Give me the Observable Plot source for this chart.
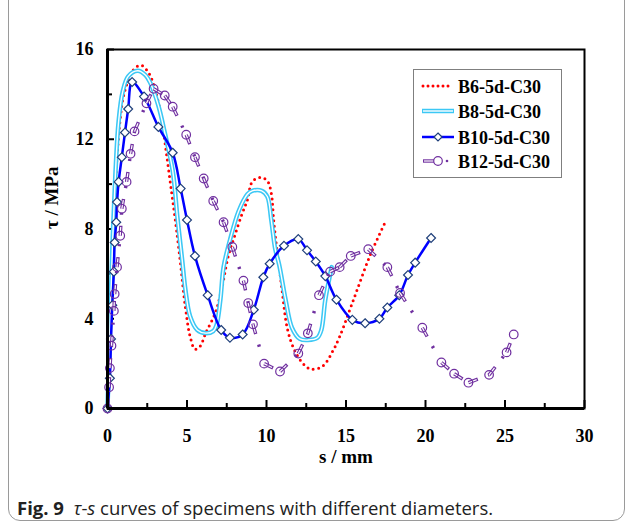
<!DOCTYPE html>
<html><head><meta charset="utf-8">
<script src="https://cdn.jsdelivr.net/npm/d3@7"></script>
<script src="https://cdn.jsdelivr.net/npm/@observablehq/plot@0.6"></script>
<style>
body{margin:0;background:#fff;}
#wrap{position:relative;width:630px;height:527px;overflow:hidden;background:#fff;}
#border{position:absolute;left:8px;top:-20px;width:617px;height:541px;border:1.5px solid #9a9a9a;border-radius:12px;box-sizing:border-box;}
#chart{position:absolute;left:0;top:0;}
#legend{position:absolute;left:413px;top:69px;width:149px;height:109px;border:1px solid #7f7f7f;box-sizing:border-box;background:#fff;}
.row{position:absolute;left:0;height:24px;width:148px;}
.row svg{position:absolute;left:6px;top:0;}
.row span{position:absolute;left:44px;top:1px;font-family:"Liberation Serif",serif;font-weight:bold;font-size:18px;line-height:22px;color:#000;}
#caption{position:absolute;left:17px;top:496px;font-family:"Open Sans","Noto Sans",sans-serif;font-size:18.5px;line-height:24px;color:#222;letter-spacing:0;white-space:nowrap;}
</style>
</head><body>
<div id="wrap">
<div id="border"></div>
<div id="chart"></div>
<div id="legend"></div>
<div id="caption"><b>Fig. 9</b>&nbsp; <i>τ</i>-<i>s</i> curves of specimens with different diameters.</div>
</div>
<script>
// ---- data ----
const seriesNames = ["B6-5d-C30", "B8-5d-C30", "B10-5d-C30", "B12-5d-C30"];
const xTicks = [0, 5, 10, 15, 20, 25, 30];
const xMinor = [2.5, 7.5, 12.5, 17.5, 22.5, 27.5];
const yTicks = [0, 4, 8, 12, 16];
const yMinor = [2, 6, 10, 14];

const b6S = [0, 0.15, 0.3, 0.45, 0.6, 0.8, 1.0, 1.4, 1.7, 2.1, 2.6, 3.0, 3.4, 3.7, 4.0, 4.3, 4.6, 4.9, 5.2, 5.5, 5.8, 6.2, 6.8, 7.2, 7.6, 8.0, 8.45, 8.8, 9.1, 9.6, 10.05, 10.3, 10.45, 10.65, 10.75, 11.0, 11.3, 11.7, 12.3, 12.8, 13.55, 14.2, 14.6, 15.5, 16.5, 17.5];
const b6T = [0, 3.0, 6.0, 9.0, 11.2, 12.9, 13.9, 14.8, 15.15, 15.3, 14.95, 14.2, 12.9, 11.4, 9.8, 8.2, 6.4, 4.5, 3.2, 2.65, 2.75, 3.4, 4.3, 5.4, 6.8, 7.7, 8.65, 9.3, 10.1, 10.3, 10.15, 9.6, 8.4, 7.1, 6.6, 5.15, 3.6, 2.7, 2.0, 1.75, 1.9, 2.6, 3.2, 4.9, 6.8, 8.35];

const b8S = [0, 0.15, 0.3, 0.5, 0.7, 0.95, 1.3, 1.9, 2.4, 2.7, 3.2, 3.6, 4.1, 4.4, 4.7, 4.9, 5.2, 5.65, 6.15, 6.65, 6.85, 7.1, 7.3, 7.7, 8.25, 8.8, 9.1, 9.7, 10.05, 10.3, 10.55, 10.8, 11.2, 11.6, 12.1, 12.6, 13.2, 13.45, 13.7, 14.1];
const b8T = [0, 3.5, 7.0, 10.5, 12.8, 14.1, 14.8, 15.05, 14.85, 14.5, 13.5, 12.3, 10.6, 8.5, 6.6, 5.3, 4.1, 3.5, 3.36, 3.45, 3.7, 4.85, 6.3, 7.5, 8.8, 9.55, 9.7, 9.7, 9.45, 8.4, 7.1, 6.4, 4.85, 3.6, 3.1, 3.05, 3.15, 3.5, 4.85, 6.3];

const b10S = [0, 0.15, 0.22, 0.3, 0.4, 0.45, 0.55, 0.6, 0.7, 0.9, 1.1, 1.3, 1.55, 2.3, 3.2, 4.1, 4.6, 5.0, 5.5, 6.3, 7.15, 7.7, 8.5, 9.2, 9.8, 10.2, 11.1, 12.0, 12.55, 13.1, 13.7, 14.4, 15.4, 16.2, 17.1, 17.6, 18.35, 18.9, 19.35, 20.35];
const b10T = [0, 1.35, 3.1, 4.6, 6.1, 7.4, 8.3, 9.2, 10.1, 11.2, 12.3, 13.35, 14.55, 13.9, 12.55, 11.4, 9.8, 8.4, 6.8, 5.05, 3.5, 3.15, 3.3, 4.4, 5.85, 6.45, 7.25, 7.55, 7.05, 6.55, 5.9, 4.85, 3.95, 3.8, 4.0, 4.5, 5.05, 5.95, 6.5, 7.6];

const b12S = [0, 0.1, 0.15, 0.25, 0.4, 0.45, 0.6, 0.8, 0.9, 1.2, 1.45, 1.7, 2.45, 2.9, 3.6, 4.1, 4.95, 5.5, 6.05, 6.65, 7.3, 7.85, 8.55, 8.85, 9.15, 9.85, 10.85, 12.0, 12.6, 13.3, 14.0, 14.6, 15.3, 16.4, 17.6, 18.4, 19.8, 21.0, 21.8, 22.7, 24.0, 25.1, 25.55];
const b12T = [0, 0.95, 1.8, 2.8, 4.35, 5.1, 6.3, 7.7, 8.9, 10.1, 11.35, 12.35, 13.6, 14.25, 13.95, 13.45, 12.2, 11.2, 10.25, 9.25, 8.3, 7.2, 5.7, 4.7, 3.75, 2.0, 1.65, 2.45, 3.35, 5.05, 6.1, 6.3, 6.8, 7.1, 6.3, 5.15, 3.6, 2.05, 1.55, 1.15, 1.5, 2.5, 3.3];

const colors = {b6: "#ff0000", b8: "#3cc8f5", b10: "#0000ff", b10m: "#1f3f7a", b12: "#7030a0"};

// ---- build ----
const toRows = (S, T) => S.map((s, i) => ({s, t: T[i]}));
const b6 = toRows(b6S, b6T), b8 = toRows(b8S, b8T), b10 = toRows(b10S, b10T), b12 = toRows(b12S, b12T);
const b12Seg = b12.slice(0, -1).map((d, i) => ({x1: d.s, y1: d.t, x2: b12[i + 1].s, y2: b12[i + 1].t}));

const W = 630, H = 480, ML = 107, MR = 46, MT = 49, MB = 72;
const FW = W - ML - MR, FH = H - MT - MB;
const curve = "catmull-rom";

const plot = Plot.plot({
  width: W, height: H,
  marginLeft: ML, marginRight: MR, marginTop: MT, marginBottom: MB,
  x: {domain: [0, 30]},
  y: {domain: [0, 16]},
  style: {fontFamily: "'Liberation Serif', serif", fontSize: "18px", fontWeight: "bold", color: "#000", background: "transparent"},
  marks: [
    // inward ticks
    Plot.ruleX(xTicks, {insetTop: FH - 8, stroke: "#000", strokeWidth: 2}),
    Plot.ruleX(xMinor, {insetTop: FH - 5, stroke: "#000", strokeWidth: 2}),
    Plot.ruleY(yTicks, {insetRight: FW - 7, stroke: "#000", strokeWidth: 2}),
    Plot.ruleY(yMinor, {insetRight: FW - 5, stroke: "#000", strokeWidth: 2}),
    Plot.axisX({ticks: xTicks, tickSize: 0, tickPadding: 21, label: null}),
    Plot.axisY({ticks: yTicks, tickSize: 0, tickPadding: 14, label: null}),
    Plot.text(["s / mm"], {text: d => d, frameAnchor: "bottom", dy: 54, fontSize: 19}),
    Plot.text(["τ / MPa"], {text: d => d, frameAnchor: "left", rotate: -90, dx: -56, fontSize: 19}),
    // B6
    Plot.line(b6, {x: "s", y: "t", curve, stroke: colors.b6, strokeWidth: 3, strokeDasharray: "0 5.5", strokeLinecap: "round"}),
    // B8
    Plot.line(b8, {x: "s", y: "t", curve, stroke: colors.b8, strokeWidth: 4.5}),
    Plot.line(b8, {x: "s", y: "t", curve, stroke: "#ffffff", strokeWidth: 1.4}),
    // B10
    Plot.line(b10, {x: "s", y: "t", curve, stroke: colors.b10, strokeWidth: 2.5}),
    Plot.dot(b10, {x: "s", y: "t", symbol: "diamond2", r: 4, stroke: colors.b10m, fill: "#ffffff", strokeWidth: 1.2}),
    // B12
    Plot.link(b12Seg, {x1: "x1", y1: "y1", x2: "x2", y2: "y2", stroke: colors.b12, strokeWidth: 3.4, strokeDasharray: "10 11 2.2 1000"}),
    Plot.link(b12Seg, {x1: "x1", y1: "y1", x2: "x2", y2: "y2", stroke: "#ffffff", strokeWidth: 1.2, strokeDasharray: "8.8 1000"}),
    Plot.dot(b12, {x: "s", y: "t", r: 4.3, stroke: colors.b12, fill: "none", strokeWidth: 1.2}),
    // frame and axes lines
    Plot.frame({stroke: "#000", strokeWidth: 2}),
    Plot.ruleX([0], {stroke: "#000", strokeWidth: 3}),
    Plot.ruleY([0], {stroke: "#000", strokeWidth: 3})
  ]
});
document.getElementById("chart").appendChild(plot);

// ---- legend ----
const samples = [
  `<line x1="3" y1="11" x2="33" y2="11" stroke="${colors.b6}" stroke-width="3" stroke-dasharray="0 5" stroke-linecap="round"/>`,
  `<line x1="2" y1="11" x2="34" y2="11" stroke="${colors.b8}" stroke-width="4.5"/><line x1="3" y1="11" x2="33" y2="11" stroke="#fff" stroke-width="1.4"/>`,
  `<line x1="2" y1="11" x2="34" y2="11" stroke="${colors.b10}" stroke-width="2.5"/><path d="M18,7 L22,11 L18,15 L14,11 Z" fill="#fff" stroke="${colors.b10m}" stroke-width="1.2"/>`,
  `<line x1="3" y1="11" x2="15" y2="11" stroke="${colors.b12}" stroke-width="3.4"/><line x1="4" y1="11" x2="15" y2="11" stroke="#fff" stroke-width="1.2"/><circle cx="18" cy="11" r="4.3" fill="#fff" stroke="${colors.b12}" stroke-width="1.2"/><circle cx="27" cy="11" r="1.3" fill="${colors.b12}"/>`
];
const tops = [5, 30, 56, 80];
const leg = document.getElementById("legend");
seriesNames.forEach((name, i) => {
  const r = document.createElement("div");
  r.className = "row";
  r.style.top = tops[i] + "px";
  r.innerHTML = `<svg width="40" height="22">${samples[i]}</svg><span>${name}</span>`;
  leg.appendChild(r);
});
</script>
</body></html>
